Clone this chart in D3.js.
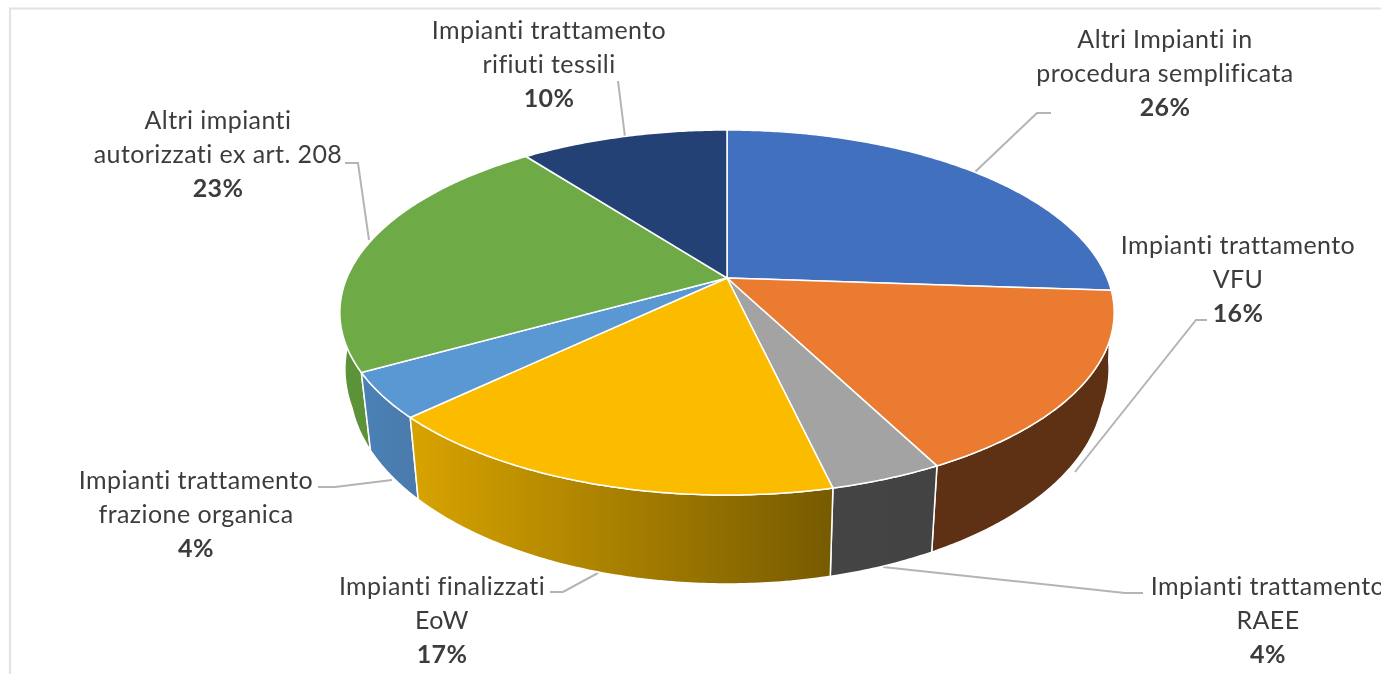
<!DOCTYPE html>
<html>
<head>
<meta charset="utf-8">
<script src="https://cdn.jsdelivr.net/npm/d3@7"></script>
<style>
  html, body { margin: 0; padding: 0; background: #fff; }
  svg { filter: blur(0.5px); }
  text { font-family: Lato, "Open Sans", sans-serif; font-size: 25px; letter-spacing: 0.42px; fill: #3c3c3c; text-anchor: middle; }
</style>
</head>
<body>
<div id="chart"></div>
<script>
// percent, a bit finer than the rounded labels so the slice edges land right
var values = [26.1, 16.3, 3.95, 16.55, 4.0, 22.7, 10.4];
var names = [
    ["Altri Impianti in", "procedura semplificata"],
    ["Impianti trattamento", "VFU"],
    ["Impianti trattamento", "RAEE"],
    ["Impianti finalizzati", "EoW"],
    ["Impianti trattamento", "frazione organica"],
    ["Altri impianti", "autorizzati ex art. 208"],
    ["Impianti trattamento", "rifiuti tessili"]
];

var topColors = ["#4170bf", "#ea7b30", "#a3a3a3", "#fbbc00", "#5a98d3", "#6eaa46", "#244176"];
var sideFrom = ["#2a4577", "#5f3114", "#454545", "#d6a200", "#4a80b4", "#5d9338", "#1a2f52"];
var sideTo = ["#2a4577", "#5f3114", "#434343", "#775b00", "#4a7aaa", "#538433", "#1a2f52"];

// label block: centre x, first baseline, then the leader polyline
var labelX = [1165, 1238, 1268, 442, 196, 218, 549];
var labelY = [48, 254, 595, 595, 489, 129, 39];
var leaders = [
    [[1051, 113], [1037, 113], [975, 172]],
    [[1207, 320], [1196, 320], [1075, 472]],
    [[1143, 593], [1125, 593], [883, 567]],
    [[550, 592], [563, 592], [598, 573]],
    [[318, 487], [335, 487], [392, 480]],
    [[345, 163], [358, 163], [369, 240]],
    [[618, 81], [625, 137]]
];

var W = 1381, H = 674;

var svg = d3.select("#chart").append("svg")
    .attr("width", W)
    .attr("height", H)
    .style("display", "block");

// faint chart frame, only top and left are in the crop
svg.append("path")
    .attr("d", "M10,680V8.5H1390")
    .attr("fill", "none")
    .attr("stroke", "#e2e2e2")
    .attr("stroke-width", 2);

// perspective ellipse for the top face, fitted to the rim
var cx = 727, cy = 278, persp = 5.29, fx = 2011, fy = 931;

function rimTop(a) {
    var u = Math.sin(a), v = -Math.cos(a);
    return [cx + fx * u / (persp - v), cy + fy * v / (persp - v)];
}
function rimBottom(a) {
    var p = rimTop(a), v = -Math.cos(a);
    // the lower rim pulls in towards the front only
    var shrink = v > 0.3 ? 0.975 : 0.975 + (0.3 - v) * 0.08;
    return [cx + shrink * (p[0] - cx), 500 + 1.09 * (p[1] - 418)];
}

var pie = d3.pie().sort(null).value(function(d) { return d; });
var slices = pie(values);
var line = d3.line();

function arcPoints(fn, a0, a1) {
    var pts = [];
    var n = Math.ceil((a1 - a0) / 0.01);
    for (var i = 0; i <= n; i++) pts.push(fn(a0 + (a1 - a0) * i / n));
    return pts;
}

var defs = svg.append("defs");
slices.forEach(function(s, i) {
    var a = rimBottom(s.startAngle), b = rimBottom(s.endAngle);
    var g = defs.append("linearGradient")
        .attr("id", "side" + i)
        .attr("gradientUnits", "userSpaceOnUse")
        .attr("x1", Math.min(a[0], b[0])).attr("y1", 0)
        .attr("x2", Math.max(a[0], b[0])).attr("y2", 0);
    g.append("stop").attr("offset", 0).attr("stop-color", sideFrom[i]);
    g.append("stop").attr("offset", 1).attr("stop-color", sideTo[i]);
});

// leaders go first, the pie covers their ends
svg.append("g").selectAll("path")
    .data(leaders)
    .join("path")
    .attr("d", function(d) { return line(d); })
    .attr("fill", "none")
    .attr("stroke", "#b4b4b4")
    .attr("stroke-width", 2);

// sides, back slices first
var order = slices.slice().sort(function(a, b) {
    return -Math.cos((a.startAngle + a.endAngle) / 2) - -Math.cos((b.startAngle + b.endAngle) / 2);
});

svg.append("g").selectAll("path")
    .data(order)
    .join("path")
    .attr("d", function(s) {
        var up = arcPoints(rimTop, s.startAngle, s.endAngle);
        var low = arcPoints(rimBottom, s.startAngle, s.endAngle).reverse();
        return line(up.concat(low)) + "Z";
    })
    .attr("fill", function(s) { return "url(#side" + s.index + ")"; })
    .attr("stroke", "#fff")
    .attr("stroke-width", 1.5)
    .attr("stroke-linejoin", "round");

svg.append("g").selectAll("path")
    .data(slices)
    .join("path")
    .attr("d", function(s) {
        return line([[cx, cy]].concat(arcPoints(rimTop, s.startAngle, s.endAngle))) + "Z";
    })
    .attr("fill", function(s) { return topColors[s.index]; })
    .attr("stroke", "#fff")
    .attr("stroke-width", 1.5)
    .attr("stroke-linejoin", "round");

// labels
var lab = svg.append("g").selectAll("text")
    .data(slices)
    .join("text")
    .attr("x", function(s) { return labelX[s.index]; })
    .attr("y", function(s) { return labelY[s.index]; });

lab.each(function(s) {
    var t = d3.select(this);
    var x = labelX[s.index];
    names[s.index].forEach(function(n, k) {
        t.append("tspan").attr("x", x).attr("dy", k ? 34 : 0).text(n);
    });
    t.append("tspan").attr("x", x).attr("dy", 34)
        .style("font-weight", 700)
        .text(Math.round(s.data) + "%");
});
</script>
</body>
</html>
